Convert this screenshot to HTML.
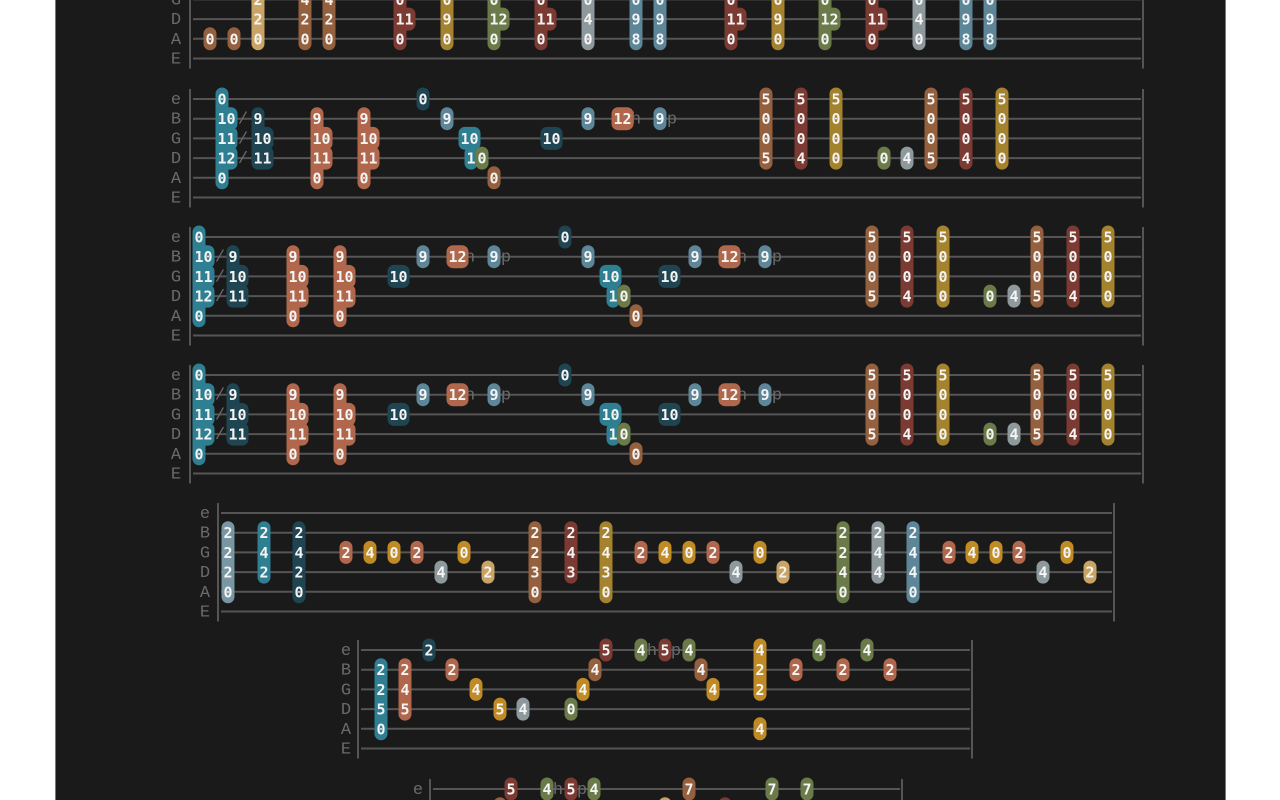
<!DOCTYPE html>
<html><head><meta charset="utf-8">
<style>
html,body{margin:0;padding:0;background:#fff;width:1280px;height:800px;overflow:hidden}
#panel{position:absolute;left:55px;top:0;width:1169px;height:800px;background:#1a1a1a;border-left:1px solid #777;border-right:1px solid #777}
svg{position:absolute;left:0;top:0;overflow:hidden}
.lbl{font-family:"Liberation Mono","Courier New",monospace;font-size:17px;fill:#6a6a6a}
.fret{font-family:"DejaVu Sans Mono",monospace;font-size:15px;font-weight:bold;fill:#f4f4f4}
</style></head>
<body>
<div id="panel"></div>
<svg id="tab" width="1280" height="800" viewBox="0 0 1280 800"></svg>
<script>
const sysTop = [-40, 99, 237, 375, 513, 650, 789];
const sysLabelX = [176, 176, 176, 176, 205, 346, 418];
const sysStart = [190, 190, 190, 190, 218, 358, 430];
const sysEnd = [1143, 1143, 1143, 1143, 1114, 972, 902];
const stringNames = ['e','B','G','D','A','E'];
const palette = {teal:'#2f7f92',dteal:'#1f4552',salmon:'#b0674c',brown:'#94603e',red:'#7b3a32',gold:'#a4822e',tan:'#c9a465',olive:'#6a7a48',grey:'#8d999c',bgrey:'#5d8798',lbgrey:'#7896a3',orange:'#c08a24'};

const notesS1 = [
 [0,210,4,'0','brown'],[0,234,4,'0','brown'],
 [0,258,1,'2','tan'],[0,258,2,'2','tan'],[0,258,3,'2','tan'],[0,258,4,'0','tan'],
 [0,305,1,'4','brown'],[0,305,2,'4','brown'],[0,305,3,'2','brown'],[0,305,4,'0','brown'],
 [0,329,1,'4','brown'],[0,329,2,'4','brown'],[0,329,3,'2','brown'],[0,329,4,'0','brown'],
 [0,400,1,'0','red'],[0,400,2,'0','red'],[0,400,3,'11','red'],[0,400,4,'0','red'],
 [0,447,1,'0','gold'],[0,447,2,'0','gold'],[0,447,3,'9','gold'],[0,447,4,'0','gold'],
 [0,494,1,'0','olive'],[0,494,2,'0','olive'],[0,494,3,'12','olive'],[0,494,4,'0','olive'],
 [0,541,1,'0','red'],[0,541,2,'0','red'],[0,541,3,'11','red'],[0,541,4,'0','red'],
 [0,588,1,'0','grey'],[0,588,2,'0','grey'],[0,588,3,'4','grey'],[0,588,4,'0','grey'],
 [0,636,1,'0','bgrey'],[0,636,2,'0','bgrey'],[0,636,3,'9','bgrey'],[0,636,4,'8','bgrey'],
 [0,660,1,'0','bgrey'],[0,660,2,'0','bgrey'],[0,660,3,'9','bgrey'],[0,660,4,'8','bgrey'],
 [0,731,1,'0','red'],[0,731,2,'0','red'],[0,731,3,'11','red'],[0,731,4,'0','red'],
 [0,778,1,'0','gold'],[0,778,2,'0','gold'],[0,778,3,'9','gold'],[0,778,4,'0','gold'],
 [0,825,1,'0','olive'],[0,825,2,'0','olive'],[0,825,3,'12','olive'],[0,825,4,'0','olive'],
 [0,872,1,'0','red'],[0,872,2,'0','red'],[0,872,3,'11','red'],[0,872,4,'0','red'],
 [0,919,1,'0','grey'],[0,919,2,'0','grey'],[0,919,3,'4','grey'],[0,919,4,'0','grey'],
 [0,966,1,'0','bgrey'],[0,966,2,'0','bgrey'],[0,966,3,'9','bgrey'],[0,966,4,'8','bgrey'],
 [0,990,1,'0','bgrey'],[0,990,2,'0','bgrey'],[0,990,3,'9','bgrey'],[0,990,4,'8','bgrey']
];
const notesS2 = [
 [1,222,0,'0','teal'],[1,222,1,'10','teal'],[1,222,2,'11','teal'],[1,222,3,'12','teal'],[1,222,4,'0','teal'],
 [1,258,1,'9','dteal'],[1,258,2,'10','dteal'],[1,258,3,'11','dteal'],
 [1,317,1,'9','salmon'],[1,317,2,'10','salmon'],[1,317,3,'11','salmon'],[1,317,4,'0','salmon'],
 [1,364,1,'9','salmon'],[1,364,2,'10','salmon'],[1,364,3,'11','salmon'],[1,364,4,'0','salmon'],
 [1,423,0,'0','dteal'],[1,447,1,'9','bgrey'],[1,465,2,'10','teal'],[1,471,3,'1','teal'],[1,482,3,'0','olive'],[1,494,4,'0','brown'],
 [1,547,2,'10','dteal'],[1,588,1,'9','bgrey'],[1,618,1,'12','salmon'],[1,660,1,'9','bgrey'],
 [1,766,0,'5','brown'],[1,766,1,'0','brown'],[1,766,2,'0','brown'],[1,766,3,'5','brown'],
 [1,801,0,'5','red'],[1,801,1,'0','red'],[1,801,2,'0','red'],[1,801,3,'4','red'],
 [1,836,0,'5','gold'],[1,836,1,'0','gold'],[1,836,2,'0','gold'],[1,836,3,'0','gold'],
 [1,884,3,'0','olive'],[1,907,3,'4','grey'],
 [1,931,0,'5','brown'],[1,931,1,'0','brown'],[1,931,2,'0','brown'],[1,931,3,'5','brown'],
 [1,966,0,'5','red'],[1,966,1,'0','red'],[1,966,2,'0','red'],[1,966,3,'4','red'],
 [1,1002,0,'5','gold'],[1,1002,1,'0','gold'],[1,1002,2,'0','gold'],[1,1002,3,'0','gold']
];
const riffS3 = [
 [199,0,'0','teal'],[199,1,'10','teal'],[199,2,'11','teal'],[199,3,'12','teal'],[199,4,'0','teal'],
 [233,1,'9','dteal'],[233,2,'10','dteal'],[233,3,'11','dteal'],
 [293,1,'9','salmon'],[293,2,'10','salmon'],[293,3,'11','salmon'],[293,4,'0','salmon'],
 [340,1,'9','salmon'],[340,2,'10','salmon'],[340,3,'11','salmon'],[340,4,'0','salmon'],
 [394,2,'10','dteal'],[423,1,'9','bgrey'],[453,1,'12','salmon'],[494,1,'9','bgrey'],
 [565,0,'0','dteal'],[588,1,'9','bgrey'],[606,2,'10','teal'],[613,3,'1','teal'],[624,3,'0','olive'],[636,4,'0','brown'],
 [665,2,'10','dteal'],[695,1,'9','bgrey'],[725,1,'12','salmon'],[765,1,'9','bgrey'],
 [872,0,'5','brown'],[872,1,'0','brown'],[872,2,'0','brown'],[872,3,'5','brown'],
 [907,0,'5','red'],[907,1,'0','red'],[907,2,'0','red'],[907,3,'4','red'],
 [943,0,'5','gold'],[943,1,'0','gold'],[943,2,'0','gold'],[943,3,'0','gold'],
 [990,3,'0','olive'],[1014,3,'4','grey'],
 [1037,0,'5','brown'],[1037,1,'0','brown'],[1037,2,'0','brown'],[1037,3,'5','brown'],
 [1073,0,'5','red'],[1073,1,'0','red'],[1073,2,'0','red'],[1073,3,'4','red'],
 [1108,0,'5','gold'],[1108,1,'0','gold'],[1108,2,'0','gold'],[1108,3,'0','gold']
];
const notesS5 = [
 [4,228,1,'2','lbgrey'],[4,228,2,'2','lbgrey'],[4,228,3,'2','lbgrey'],[4,228,4,'0','lbgrey'],
 [4,264,1,'2','teal'],[4,264,2,'4','teal'],[4,264,3,'2','teal'],
 [4,299,1,'2','dteal'],[4,299,2,'4','dteal'],[4,299,3,'2','dteal'],[4,299,4,'0','dteal'],
 [4,346,2,'2','salmon'],[4,370,2,'4','orange'],[4,394,2,'0','orange'],[4,417,2,'2','salmon'],[4,441,3,'4','grey'],[4,464,2,'0','orange'],[4,488,3,'2','tan'],
 [4,535,1,'2','brown'],[4,535,2,'2','brown'],[4,535,3,'3','brown'],[4,535,4,'0','brown'],
 [4,571,1,'2','red'],[4,571,2,'4','red'],[4,571,3,'3','red'],
 [4,606,1,'2','gold'],[4,606,2,'4','gold'],[4,606,3,'3','gold'],[4,606,4,'0','gold'],
 [4,641,2,'2','salmon'],[4,665,2,'4','orange'],[4,689,2,'0','orange'],[4,713,2,'2','salmon'],[4,736,3,'4','grey'],[4,760,2,'0','orange'],[4,783,3,'2','tan'],
 [4,843,1,'2','olive'],[4,843,2,'2','olive'],[4,843,3,'4','olive'],[4,843,4,'0','olive'],
 [4,878,1,'2','grey'],[4,878,2,'4','grey'],[4,878,3,'4','grey'],
 [4,913,1,'2','bgrey'],[4,913,2,'4','bgrey'],[4,913,3,'4','bgrey'],[4,913,4,'0','bgrey'],
 [4,949,2,'2','salmon'],[4,972,2,'4','orange'],[4,996,2,'0','orange'],[4,1019,2,'2','salmon'],[4,1043,3,'4','grey'],[4,1067,2,'0','orange'],[4,1090,3,'2','tan']
];
const notesS6 = [
 [5,381,1,'2','teal'],[5,381,2,'2','teal'],[5,381,3,'5','teal'],[5,381,4,'0','teal'],
 [5,405,1,'2','salmon'],[5,405,2,'4','salmon'],[5,405,3,'5','salmon'],
 [5,429,0,'2','dteal'],[5,452,1,'2','salmon'],[5,476,2,'4','orange'],[5,500,3,'5','orange'],[5,523,3,'4','grey'],
 [5,571,3,'0','olive'],[5,583,2,'4','orange'],[5,595,1,'4','brown'],[5,606,0,'5','red'],
 [5,641,0,'4','olive'],[5,665,0,'5','red'],[5,689,0,'4','olive'],[5,701,1,'4','brown'],[5,713,2,'4','orange'],
 [5,760,0,'4','orange'],[5,760,1,'2','orange'],[5,760,2,'2','orange'],[5,760,4,'4','orange'],
 [5,796,1,'2','salmon'],[5,819,0,'4','olive'],[5,843,1,'2','salmon'],[5,867,0,'4','olive'],[5,890,1,'2','salmon']
];
const notesS7 = [
 [6,500,1,'4','brown'],[6,511,0,'5','red'],[6,547,0,'4','olive'],[6,571,0,'5','red'],[6,594,0,'4','olive'],
 [6,665,1,'2','tan'],[6,689,0,'7','brown'],[6,725,1,'5','red'],[6,772,0,'7','olive'],[6,807,0,'7','olive']
];
const marks = [
 [1,243,1,'/'],[1,243,2,'/'],[1,243,3,'/'],[1,636,1,'h'],[1,672,1,'p'],
 [2,220,1,'/'],[2,220,2,'/'],[2,220,3,'/'],[2,470,1,'h'],[2,506,1,'p'],[2,742,1,'h'],[2,777,1,'p'],
 [3,220,1,'/'],[3,220,2,'/'],[3,220,3,'/'],[3,470,1,'h'],[3,506,1,'p'],[3,742,1,'h'],[3,777,1,'p'],
 [5,652,0,'h'],[5,676,0,'p'],[6,558,0,'h'],[6,582,0,'p']
];

const SP = 19.7;
const yOf = (s, str) => sysTop[s] + str * SP;
const NS = 'http://www.w3.org/2000/svg';
const svg = document.getElementById('tab');
function mk(tag, attrs, parent) {
  const e = document.createElementNS(NS, tag);
  for (const k in attrs) e.setAttribute(k, attrs[k]);
  (parent || svg).appendChild(e);
  return e;
}
const allNotes = notesS1.concat(notesS2, notesS5, notesS6, notesS7);
riffS3.forEach(n => { allNotes.push([2, n[0], n[1], n[2], n[3]]); allNotes.push([3, n[0], n[1], n[2], n[3]]); });

sysTop.forEach((t, s) => {
  const g = mk('g', {});
  
  
  for (let i = 0; i < 6; i++) {
    const y = yOf(s, i);
    const ln = mk('line', {x1: sysStart[s] + 3, x2: sysEnd[s] - 2, y1: y, y2: y, stroke: '#555', 'stroke-width': 2}, g);
    
    
    const lb = mk('text', {x: sysLabelX[s], y: y + 5, class: 'lbl', 'text-anchor': 'middle'}, g);
    lb.textContent = stringNames[i];
    
    
  }
  const b1 = mk('line', {x1: sysStart[s], x2: sysStart[s], y1: yOf(s, 0) - 10, y2: yOf(s, 5) + 10, stroke: '#555', 'stroke-width': 2}, g);
  
  
  const b2 = mk('line', {x1: sysEnd[s], x2: sysEnd[s], y1: yOf(s, 0) - 10, y2: yOf(s, 5) + 10, stroke: '#555', 'stroke-width': 2}, g);
  
  
});

marks.forEach(m => {
  const t = mk('text', {x: m[1], y: yOf(m[0], m[2]) + 5, class: 'lbl', 'text-anchor': 'middle'});
  t.textContent = m[3];
  
  
});

allNotes.forEach(n => {
  const nb = allNotes.find(o => o[0] === n[0] && o[1] === n[1] && o[4] === n[4] && o[2] === n[2] + 1);
  if (nb) {
    const c = mk('rect', {x: n[1] - 6.5, y: yOf(n[0], n[2]), width: 13, height: SP, fill: palette[n[4]]});
    
    
  }
});
allNotes.forEach(n => {
  const w = 9 * n[3].length + 4;
  const y = yOf(n[0], n[2]);
  const r = mk('rect', {x: n[1] - 6.5, y: y - 11.5, width: w, height: 23, rx: 6.5, ry: 6.5, fill: palette[n[4]]});
  
  
});
allNotes.forEach(n => {
  const y = yOf(n[0], n[2]);
  const t = mk('text', {x: n[1] - 4.5, y: y + 5.5, class: 'fret'});
  t.textContent = n[3];
  
  
});
</script>
</body></html>
